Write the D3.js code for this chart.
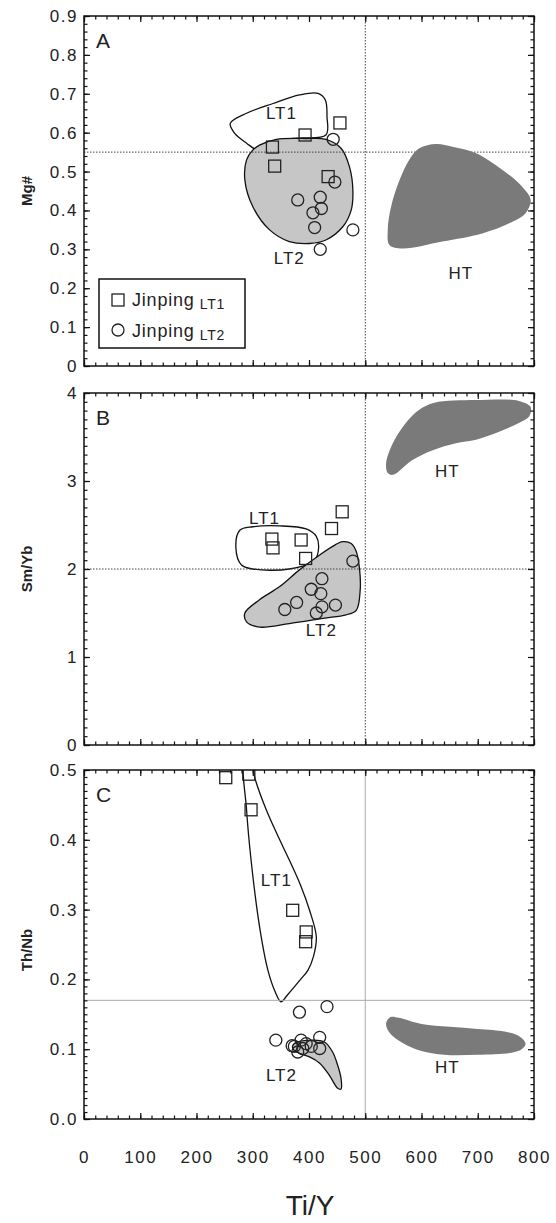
<!DOCTYPE html>
<html>
<head>
<meta charset="utf-8">
<script src="https://cdnjs.cloudflare.com/ajax/libs/d3/7.8.5/d3.min.js"></script>
<style>
  body { margin: 0; background: #fff; }
  svg text { font-family: "Liberation Sans", Arial, sans-serif; fill: #222; }
</style>
</head>
<body>
<div id="chart"></div>
<script>
// ---------- values (x = Ti/Y) ----------
const xTicks = [0, 100, 200, 300, 400, 500, 600, 700, 800];

// Panel A : Mg#
const yTicksA = [0, 0.1, 0.2, 0.3, 0.4, 0.5, 0.6, 0.7, 0.8, 0.9];
const squaresA = [[335, 0.563], [339, 0.514], [393, 0.594], [455, 0.625], [434, 0.487]];
const circlesA = [[443, 0.583], [446, 0.473], [380, 0.427], [420, 0.434], [422, 0.405],
  [407, 0.394], [410, 0.356], [478, 0.350], [420, 0.300]];
const lt1A = [[260, 0.624], [289, 0.650], [336, 0.675], [383, 0.697], [416, 0.701], [429, 0.684],
  [432, 0.641], [430, 0.594], [371, 0.585], [324, 0.564], [309, 0.555], [289, 0.573], [268, 0.598]];
const lt2A = [[312, 0.568], [342, 0.583], [395, 0.585], [430, 0.583], [457, 0.560], [472, 0.512],
  [478, 0.452], [475, 0.401], [460, 0.358], [430, 0.324], [401, 0.315], [365, 0.320], [330, 0.350],
  [300, 0.410], [286, 0.478], [289, 0.530], [300, 0.555]];
const htA = [[596, 0.560], [626, 0.571], [655, 0.564], [697, 0.547], [744, 0.504], [779, 0.461],
  [794, 0.427], [785, 0.393], [756, 0.367], [708, 0.341], [637, 0.320], [566, 0.302], [543, 0.311],
  [540, 0.350], [546, 0.410], [561, 0.478], [578, 0.530]];

// Panel B : Sm/Yb
const yTicksB = [0, 1, 2, 3, 4];
const squaresB = [[334, 2.34], [336, 2.24], [386, 2.33], [394, 2.12], [440, 2.46], [459, 2.65]];
const circlesB = [[478, 2.09], [423, 1.89], [404, 1.77], [421, 1.72], [378, 1.62], [357, 1.54],
  [423, 1.57], [447, 1.59], [413, 1.50]];
const lt1B = [[277, 2.44], [300, 2.48], [348, 2.49], [395, 2.455], [413, 2.37], [417, 2.235],
  [410, 2.10], [365, 2.00], [300, 2.00], [280, 2.045], [270, 2.24]];
const lt2B = [[460, 2.31], [475, 2.29], [484, 2.20], [490, 1.99], [491, 1.76], [484, 1.53],
  [466, 1.48], [425, 1.44], [365, 1.38], [312, 1.34], [289, 1.40], [286, 1.50], [312, 1.65],
  [348, 1.80], [383, 1.99], [419, 2.16], [448, 2.28]];
const htB = [[623, 3.89], [697, 3.92], [773, 3.91], [794, 3.84], [791, 3.73], [773, 3.66],
  [738, 3.56], [697, 3.47], [661, 3.43], [620, 3.35], [584, 3.24], [549, 3.07], [540, 3.09],
  [537, 3.20], [549, 3.43], [572, 3.66], [596, 3.81]];

// Panel C : Th/Nb
const yTicksC = [0, 0.1, 0.2, 0.3, 0.4, 0.5];
const squaresC = [[252, 0.489], [293, 0.494], [297, 0.443], [371, 0.299], [395, 0.268], [394, 0.254]];
const circlesC = [[383, 0.153], [432, 0.161], [341, 0.113], [386, 0.113], [419, 0.117], [374, 0.104],
  [389, 0.101], [419, 0.101], [380, 0.096], [404, 0.104], [370, 0.105], [395, 0.108]];
const lt1C = [[285, 0.515], [289, 0.443], [297, 0.371], [312, 0.276], [327, 0.213], [340, 0.182],
  [350, 0.168], [362, 0.178], [385, 0.200], [398, 0.213], [408, 0.233], [413, 0.261], [401, 0.299],
  [385, 0.335], [365, 0.371], [345, 0.405], [324, 0.443], [305, 0.485], [295, 0.515]];
const lt2C = [[374, 0.108], [407, 0.113], [428, 0.110], [442, 0.096], [451, 0.077], [457, 0.058],
  [457, 0.043], [451, 0.044], [436, 0.063], [419, 0.080], [401, 0.089], [383, 0.094], [371, 0.101]];
const htC = [[537, 0.137], [545, 0.146], [560, 0.145], [600, 0.136], [650, 0.132], [700, 0.129],
  [750, 0.125], [775, 0.118], [785, 0.108], [778, 0.100], [760, 0.095], [700, 0.092], [640, 0.092],
  [590, 0.100], [560, 0.112], [542, 0.125]];

// reference lines [x, y] and field labels
const refA = [500, 0.55], refB = [500, 2], refC = [500, 0.17];
const labelsA = [["LT1", 351, 0.65], ["LT2", 365, 0.277], ["HT", 670, 0.24]];
const labelsB = [["LT1", 321, 2.58], ["LT2", 422, 1.31], ["HT", 646, 3.12]];
const labelsC = [["LT1", 342, 0.342], ["LT2", 351, 0.063], ["HT", 646, 0.075]];

// ---------- drawing ----------
var width = 556, height = 1223;
var svg = d3.select("#chart").append("svg")
  .attr("width", width)
  .attr("height", height);

var x = d3.scaleLinear().domain([0, 800]).range([84, 534]);

var panels = [
  { name: "A", title: "Mg#", titleY: 191, top: 16, bottom: 366, domain: [0, 0.9], ticks: yTicksA,
    minor: d3.range(0, 46).map(i => i * 0.02), fmt: d => d === 0 ? "0" : d3.format(".1f")(d),
    squares: squaresA, circles: circlesA, lt1: lt1A, lt2: lt2A, ht: htA, ref: refA,
    refStyle: "dot", labels: labelsA },
  { name: "B", title: "Sm/Yb", titleY: 569, top: 393, bottom: 745, domain: [0, 4], ticks: yTicksB,
    minor: d3.range(0, 41).map(i => i * 0.1), fmt: d3.format("d"),
    squares: squaresB, circles: circlesB, lt1: lt1B, lt2: lt2B, ht: htB, ref: refB,
    refStyle: "dot", labels: labelsB },
  { name: "C", title: "Th/Nb", titleY: 950, top: 770, bottom: 1119, domain: [0, 0.5], ticks: yTicksC,
    minor: d3.range(0, 51).map(i => i * 0.01), fmt: d3.format(".1f"),
    squares: squaresC, circles: circlesC, lt1: lt1C, lt2: lt2C, ht: htC, ref: refC,
    refStyle: "solid", labels: labelsC, xLabels: true }
];

panels.forEach(drawPanel);

// x-axis title
svg.append("text")
  .attr("x", 310)
  .attr("y", 1215)
  .attr("text-anchor", "middle")
  .attr("font-size", "28px")
  .text("Ti/Y");

// legend (panel A)
var leg = svg.append("g");
leg.append("rect")
  .attr("x", 99).attr("y", 279).attr("width", 146).attr("height", 69)
  .attr("fill", "#fff").attr("stroke", "#111").attr("stroke-width", 1.5);
leg.append("rect")
  .attr("x", 112).attr("y", 294).attr("width", 12).attr("height", 12)
  .attr("fill", "none").attr("stroke", "#222").attr("stroke-width", 1.3);
leg.append("circle")
  .attr("cx", 118).attr("cy", 330).attr("r", 6)
  .attr("fill", "none").attr("stroke", "#222").attr("stroke-width", 1.3);
[["LT1", 306], ["LT2", 337]].forEach(function (r) {
  var t = leg.append("text")
    .attr("x", 132).attr("y", r[1])
    .attr("font-size", "18px")
    .attr("letter-spacing", "0.8px");
  t.append("tspan").text("Jinping");
  t.append("tspan").attr("dx", 5).attr("dy", 3).attr("font-size", "14px").text(r[0]);
});

function drawPanel(p) {
  var y = d3.scaleLinear().domain(p.domain).range([p.bottom, p.top]);
  var g = svg.append("g");

  // clip to the plot frame
  svg.append("clipPath").attr("id", "clip" + p.name)
    .append("rect")
    .attr("x", x(0)).attr("y", p.top)
    .attr("width", x(800) - x(0)).attr("height", p.bottom - p.top);
  var plot = g.append("g").attr("clip-path", "url(#clip" + p.name + ")");

  var outline = d3.line()
    .x(d => x(d[0]))
    .y(d => y(d[1]))
    .curve(d3.curveCatmullRomClosed.alpha(0.5));

  // low-Ti fields
  plot.append("path").attr("d", outline(p.lt1))
    .attr("fill", "#fff").attr("stroke", "#111").attr("stroke-width", 1.3);
  plot.append("path").attr("d", outline(p.lt2))
    .attr("fill", "#c6c6c6").attr("stroke", "#111").attr("stroke-width", 1.3);

  // reference lines
  var dash = p.refStyle === "dot" ? "1.5,1.5" : null;
  var refColor = p.refStyle === "dot" ? "#444" : "#aaa";
  plot.append("line")
    .attr("x1", x(p.ref[0])).attr("x2", x(p.ref[0]))
    .attr("y1", p.top).attr("y2", p.bottom)
    .attr("stroke", refColor).attr("stroke-width", 1).attr("stroke-dasharray", dash);
  plot.append("line")
    .attr("x1", x(0)).attr("x2", x(800))
    .attr("y1", y(p.ref[1])).attr("y2", y(p.ref[1]))
    .attr("stroke", refColor).attr("stroke-width", 1).attr("stroke-dasharray", dash);

  // high-Ti field
  plot.append("path").attr("d", outline(p.ht))
    .attr("fill", "#7a7a7a").attr("stroke", "none");

  // field labels
  plot.selectAll(".flabel")
    .data(p.labels)
    .enter()
    .append("text")
    .attr("x", d => x(d[1]))
    .attr("y", d => y(d[2]))
    .attr("dy", "0.36em")
    .attr("text-anchor", "middle")
    .attr("font-size", "17px")
    .attr("letter-spacing", "1px")
    .text(d => d[0]);

  // samples
  plot.selectAll(".sq")
    .data(p.squares)
    .enter()
    .append("rect")
    .attr("x", d => x(d[0]) - 6)
    .attr("y", d => y(d[1]) - 6)
    .attr("width", 12).attr("height", 12)
    .attr("fill", "none").attr("stroke", "#222").attr("stroke-width", 1.3);
  g.selectAll(".ci")
    .data(p.circles)
    .enter()
    .append("circle")
    .attr("cx", d => x(d[0]))
    .attr("cy", d => y(d[1]))
    .attr("r", 6)
    .attr("fill", "none").attr("stroke", "#222").attr("stroke-width", 1.3);

  // axes, ticks pointing inward on all four sides
  var style = function (sel) {
    sel.select(".domain").remove();
    sel.selectAll(".tick line").attr("stroke", "#111").attr("stroke-width", 1.2);
    sel.attr("font-family", null).attr("font-size", "17px").attr("letter-spacing", "1.5px");
  };
  var xMinor = d3.range(0, 41).map(i => i * 20);

  g.append("g").attr("transform", "translate(0," + p.bottom + ")")
    .call(d3.axisBottom(x).tickValues(xMinor).tickSize(-3.5).tickFormat("")).call(style);
  g.append("g").attr("transform", "translate(0," + p.bottom + ")")
    .call(d3.axisBottom(x).tickValues(xTicks).tickSize(-6).tickPadding(32)
      .tickFormat(p.xLabels ? d3.format("d") : "")).call(style);
  g.append("g").attr("transform", "translate(0," + p.top + ")")
    .call(d3.axisTop(x).tickValues(xMinor).tickSize(-3.5).tickFormat("")).call(style);
  g.append("g").attr("transform", "translate(0," + p.top + ")")
    .call(d3.axisTop(x).tickValues(xTicks).tickSize(-6).tickFormat("")).call(style);

  g.append("g").attr("transform", "translate(" + x(0) + ",0)")
    .call(d3.axisLeft(y).tickValues(p.minor).tickSize(-3.5).tickFormat("")).call(style);
  g.append("g").attr("transform", "translate(" + x(0) + ",0)")
    .call(d3.axisLeft(y).tickValues(p.ticks).tickSize(-6).tickPadding(6).tickFormat(p.fmt)).call(style);
  g.append("g").attr("transform", "translate(" + x(800) + ",0)")
    .call(d3.axisRight(y).tickValues(p.minor).tickSize(-3.5).tickFormat("")).call(style);
  g.append("g").attr("transform", "translate(" + x(800) + ",0)")
    .call(d3.axisRight(y).tickValues(p.ticks).tickSize(-6).tickFormat("")).call(style);

  // frame
  g.append("rect")
    .attr("x", x(0)).attr("y", p.top)
    .attr("width", x(800) - x(0)).attr("height", p.bottom - p.top)
    .attr("fill", "none").attr("stroke", "#111").attr("stroke-width", 1.5);

  // panel letter
  g.append("text")
    .attr("x", 96).attr("y", p.top + 32)
    .attr("font-size", "21px")
    .text(p.name);

  // y-axis title
  g.append("text")
    .attr("transform", "translate(32," + p.titleY + ") rotate(-90)")
    .attr("text-anchor", "middle")
    .attr("font-size", "15px")
    .attr("font-weight", "bold")
    .text(p.title);
}
</script>
</body>
</html>
